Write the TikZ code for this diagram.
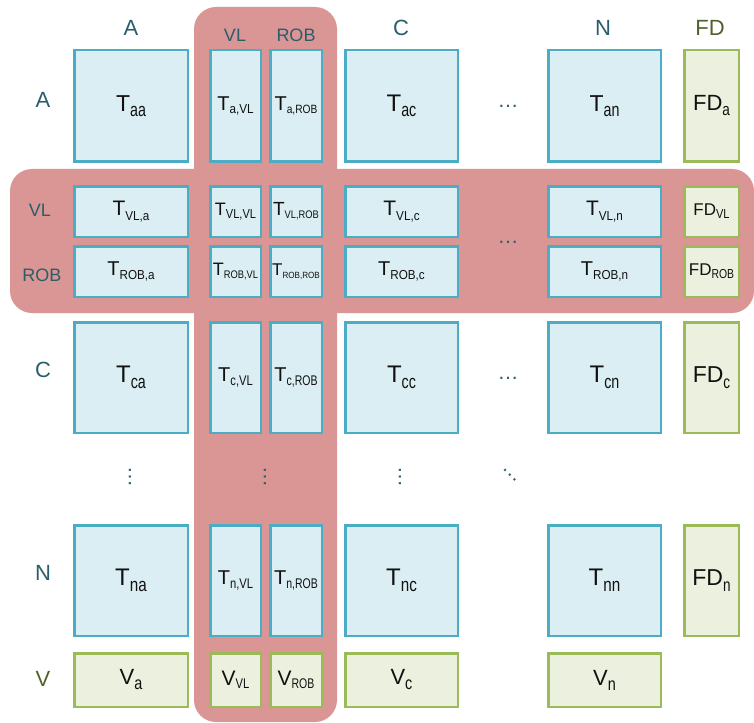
\documentclass[tikz,border=0pt]{standalone}
\usepackage{fontspec}
\usepackage{graphicx}
\setmainfont{Liberation Sans}
\definecolor{bandred}{HTML}{D99694}
\definecolor{bluefill}{HTML}{DAEEF3}
\definecolor{blueline}{HTML}{4BACC6}
\definecolor{greenfill}{HTML}{EBF1DE}
\definecolor{greenline}{HTML}{9BBB59}
\definecolor{labelteal}{HTML}{2A5D6C}
\definecolor{labelgreen}{HTML}{4F6228}
\definecolor{boxtext}{HTML}{111111}
% main size, sub size, horizontal scale of sub, lowering (pt), main text, sub text
\newcommand\Ts[6]{\fontsize{#1}{#1}\selectfont #5\raisebox{-#4pt}{\scalebox{#3}[1]{\fontsize{#2}{#2}\selectfont #6}}}
\begin{document}
\begin{tikzpicture}[x=1pt,y=-1pt,
  cell/.style={draw=blueline, fill=bluefill, line width=2.5pt, inner sep=0pt, text=boxtext},
  gcell/.style={draw=greenline, fill=greenfill, line width=2.5pt, inner sep=0pt, text=boxtext},
  colA/.style={minimum width=113.5pt}, colVL/.style={minimum width=50.5pt},
  colROB/.style={minimum width=51.5pt}, colC/.style={minimum width=112.5pt},
  colN/.style={minimum width=112.5pt}, colFD/.style={minimum width=54.5pt},
  rowA/.style={minimum height=111.5pt}, rowVL/.style={minimum height=50.5pt},
  rowROB/.style={minimum height=50.5pt}, rowC/.style={minimum height=110.5pt},
  rowN/.style={minimum height=110.5pt}, rowV/.style={minimum height=53.5pt},
  hdr/.style={text=labelteal, inner sep=0pt, font=\fontsize{22}{22}\selectfont},
  hdrs/.style={text=labelteal, inner sep=0pt, font=\fontsize{18}{18}\selectfont},
  ghdr/.style={text=labelgreen, inner sep=0pt, font=\fontsize{22}{22}\selectfont},
  dotsty/.style={text=labelteal, inner sep=0pt, font=\fontsize{21}{21}\selectfont}]
\useasboundingbox (0,0) rectangle (754,722);
% bands
\fill[bandred, rounded corners=22pt] (194,7) rectangle (337,722);
\fill[bandred, rounded corners=22pt] (10,169) rectangle (754,313);
% column headers
\node[hdr] (hA) at (131,28) {A};
\node[hdrs] (hVL) at (235,35) {VL};
\node[hdrs] (hROB) at (296,35) {ROB};
\node[hdr] (hC) at (401,28) {C};
\node[hdr] (hN) at (603,28) {N};
\node[ghdr] (hFD) at (710,28) {FD};
% row labels
\node[hdr] (rA) at (43,100) {A};
\node[hdrs] (rVL) at (40,210) {VL};
\node[hdrs] (rROB) at (42,275) {ROB};
\node[hdr] (rC) at (43,370) {C};
\node[hdr] (rN) at (43,573) {N};
\node[ghdr] (rV) at (43,679) {V};
% row A
\node[cell,colA,rowA] (Taa) at (131,106) {\Ts{23}{19}{0.75}{5}{T}{aa}};
\node[cell,colVL,rowA] (TaVL) at (235.5,106) {\Ts{20}{13}{0.9}{3}{T}{a,VL}};
\node[cell,colROB,rowA] (TaROB) at (296,106) {\Ts{20}{12}{0.85}{3}{T}{a,ROB}};
\node[cell,colC,rowA] (Tac) at (401.5,106) {\Ts{24}{19}{0.75}{5}{T}{ac}};
\node[cell,colN,rowA] (Tan) at (604.5,106) {\Ts{23}{19}{0.75}{5}{T}{an}};
\node[gcell,colFD,rowA] (FDa) at (711.5,106) {\Ts{22}{17}{0.8}{5}{FD}{a}};
% row VL
\node[cell,colA,rowVL] (TVLa) at (131,211.5) {\Ts{21}{13}{0.9}{5}{T}{VL,a}};
\node[cell,colVL,rowVL] (TVLVL) at (235.5,211.5) {\Ts{18}{13}{0.85}{3}{T}{VL,VL}};
\node[cell,colROB,rowVL] (TVLROB) at (296,211.5) {\Ts{19}{11}{0.85}{3}{T}{VL,ROB}};
\node[cell,colC,rowVL] (TVLc) at (401.5,211.5) {\Ts{21}{13}{0.9}{5}{T}{VL,c}};
\node[cell,colN,rowVL] (TVLn) at (604.5,211.5) {\Ts{21}{13}{0.9}{5}{T}{VL,n}};
\node[gcell,colFD,rowVL] (FDVL) at (711.5,211.5) {\Ts{17}{13}{0.85}{3}{FD}{VL}};
% row ROB
\node[cell,colA,rowROB] (TROBa) at (131,271.5) {\Ts{20}{13}{0.9}{4}{T}{ROB,a}};
\node[cell,colVL,rowROB] (TROBVL) at (235.5,271.5) {\Ts{18}{11}{0.85}{3}{T}{ROB,VL}};
\node[cell,colROB,rowROB] (TROBROB) at (296,271.5) {\Ts{17}{9}{0.9}{3}{T}{ROB,ROB}};
\node[cell,colC,rowROB] (TROBc) at (401.5,271.5) {\Ts{20}{13}{0.9}{4}{T}{ROB,c}};
\node[cell,colN,rowROB] (TROBn) at (604.5,271.5) {\Ts{20}{13}{0.9}{4}{T}{ROB,n}};
\node[gcell,colFD,rowROB] (FDROB) at (711.5,271.5) {\Ts{17}{13}{0.8}{3}{FD}{ROB}};
% row C
\node[cell,colA,rowC] (Tca) at (131,377.5) {\Ts{24}{19}{0.75}{6}{T}{ca}};
\node[cell,colVL,rowC] (TcVL) at (235.5,377.5) {\Ts{20}{14}{0.8}{4}{T}{c,VL}};
\node[cell,colROB,rowC] (TcROB) at (296,377.5) {\Ts{20}{14}{0.75}{4}{T}{c,ROB}};
\node[cell,colC,rowC] (Tcc) at (401.5,377.5) {\Ts{24}{19}{0.75}{6}{T}{cc}};
\node[cell,colN,rowC] (Tcn) at (604.5,377.5) {\Ts{24}{19}{0.75}{6}{T}{cn}};
\node[gcell,colFD,rowC] (FDc) at (711.5,377.5) {\Ts{23}{18}{0.75}{6}{FD}{c}};
% dots
\node[dotsty, anchor=base] (dA) at (508,108) {…};
\node[dotsty, anchor=base] (dVR) at (508,243) {…};
\node[dotsty, anchor=base] (dC) at (508,379) {…};
\node[dotsty, anchor=base, rotate=90] (vA) at (131,477) {…};
\node[dotsty, anchor=base, rotate=90] (vV) at (266,477) {…};
\node[dotsty, anchor=base, rotate=90] (vC) at (401,477) {…};
\node[dotsty, anchor=base, rotate=-45] (dd) at (509,476) {…};
% row N
\node[cell,colA,rowN] (Tna) at (131,580.5) {\Ts{24}{19}{0.8}{6}{T}{na}};
\node[cell,colVL,rowN] (TnVL) at (235.5,580.5) {\Ts{20}{14}{0.8}{4}{T}{n,VL}};
\node[cell,colROB,rowN] (TnROB) at (296,580.5) {\Ts{20}{14}{0.75}{4}{T}{n,ROB}};
\node[cell,colC,rowN] (Tnc) at (401.5,580.5) {\Ts{24}{19}{0.8}{6}{T}{nc}};
\node[cell,colN,rowN] (Tnn) at (604.5,580.5) {\Ts{24}{19}{0.8}{6}{T}{nn}};
\node[gcell,colFD,rowN] (FDn) at (711.5,580.5) {\Ts{23}{18}{0.75}{6}{FD}{n}};
% row V
\node[gcell,colA,rowV] (Va) at (131,680) {\Ts{22}{18}{0.8}{5}{V}{a}};
\node[gcell,colVL,rowV] (VVL) at (235.5,680) {\Ts{21}{14}{0.8}{3}{V}{VL}};
\node[gcell,colROB,rowV] (VROB) at (296,680) {\Ts{21}{14}{0.75}{3}{V}{ROB}};
\node[gcell,colC,rowV] (Vc) at (401.5,680) {\Ts{22}{18}{0.8}{5}{V}{c}};
\node[gcell,colN,rowV] (Vn) at (604.5,680) {\Ts{22}{18}{0.8}{5}{V}{n}};
\end{tikzpicture}
\end{document}
